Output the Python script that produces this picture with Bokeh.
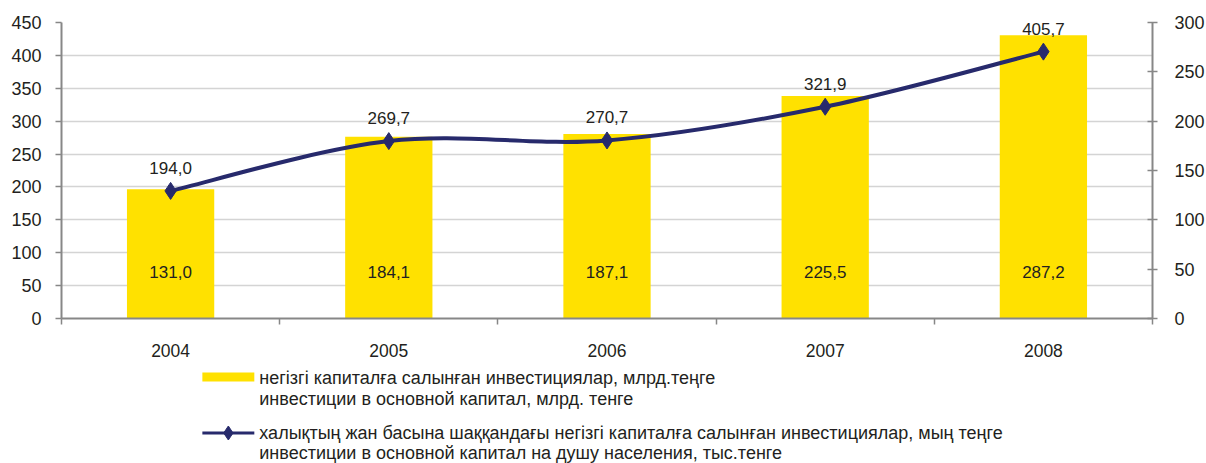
from bokeh.plotting import figure
from bokeh.models import Range1d, LinearAxis, FixedTicker
from bokeh.layouts import column
from bokeh.embed import file_html
from bokeh.resources import INLINE
from bokeh.core.properties import value

years = ["2004", "2005", "2006", "2007", "2008"]
bar_values = [131.0, 184.1, 187.1, 225.5, 287.2]      # right axis (0-300)
line_values = [194.0, 269.7, 270.7, 321.9, 405.7]     # left axis (0-450)
left_ticks = [0, 50, 100, 150, 200, 250, 300, 350, 400, 450]
right_ticks = [0, 50, 100, 150, 200, 250, 300]
legend_bar_lines = ["негізгі капиталға салынған инвестициялар, млрд.теңге",
                    "инвестиции в основной капитал, млрд. тенге"]
legend_line_lines = ["халықтың жан басына шаққандағы негізгі капиталға салынған инвестициялар, мың теңге",
                     "инвестиции в основной капитал на душу населения, тыс.тенге"]

def fmt(v):
    return f"{v:.1f}".replace(".", ",")

FONT = "Liberation Sans"
TXT = "#231F20"
YELLOW = "#FFE100"
NAVY = "#272A6C"
AXIS = "#878787"
GRID = "#D4D4D4"

FRAME_L, FRAME_W = 61, 1091
TOP_H = 358

xs = list(range(len(years)))

p = figure(frame_width=FRAME_W, frame_height=296, min_border_left=FRAME_L, min_border_top=22,
           min_border_right=54, min_border_bottom=40,
           x_range=Range1d(-0.5, len(years) - 0.5), y_range=Range1d(0, 450),
           output_backend="svg", toolbar_location=None)
p.extra_y_ranges = {"right": Range1d(0, 300)}
p.outline_line_color = None
p.background_fill_color = "white"

# bars
p.vbar(x=xs, top=bar_values, width=0.4, bottom=0, y_range_name="right",
       fill_color=YELLOW, line_color=None)

# smoothed line (Catmull-Rom -> cubic bezier) computed from the data
pts = list(zip(xs, line_values))
x0s, y0s, x1s, y1s, cx0, cy0, cx1, cy1 = [], [], [], [], [], [], [], []
n = len(pts)
for i in range(n - 1):
    pm = pts[i - 1] if i > 0 else pts[i]
    p0 = pts[i]
    p1 = pts[i + 1]
    p2 = pts[i + 2] if i + 2 < n else pts[i + 1]
    x0s.append(p0[0]); y0s.append(p0[1]); x1s.append(p1[0]); y1s.append(p1[1])
    cx0.append(p0[0] + (p1[0] - pm[0]) / 6); cy0.append(p0[1] + (p1[1] - pm[1]) / 6)
    cx1.append(p1[0] - (p2[0] - p0[0]) / 6); cy1.append(p1[1] - (p2[1] - p0[1]) / 6)
p.bezier(x0=x0s, y0=y0s, x1=x1s, y1=y1s, cx0=cx0, cy0=cy0, cx1=cx1, cy1=cy1,
         line_color=NAVY, line_width=4)
p.scatter(x=xs, y=line_values, marker="diamond", size=17, fill_color=NAVY, line_color=NAVY)

# labels
p.text(x=xs, y=line_values, text=[fmt(v) for v in line_values], y_offset=-23,
       text_align="center", text_baseline="middle", text_font=value(FONT),
       text_font_size="17px", text_color=TXT)
p.text(x=xs, y=[0] * len(xs), text=[fmt(v) for v in bar_values], y_offset=-47,
       y_range_name="right", text_align="center", text_baseline="middle",
       text_font=value(FONT), text_font_size="17px", text_color=TXT)

# axes
p.xaxis.ticker = FixedTicker(ticks=xs, minor_ticks=[i - 0.5 for i in range(len(years) + 1)])
p.xaxis.major_label_overrides = {i: y for i, y in zip(xs, years)}
p.xaxis.major_tick_out = 0
p.xaxis.major_tick_in = 0
p.xaxis.minor_tick_out = 6
p.xaxis.minor_tick_in = 0
p.xaxis.minor_tick_line_color = AXIS
p.xaxis.minor_tick_line_width = 1.5
p.xaxis.major_label_standoff = 19

p.yaxis.ticker = FixedTicker(ticks=left_ticks)
p.yaxis.major_tick_out = 6
p.yaxis.major_tick_in = 0
p.yaxis.minor_tick_line_color = None
p.yaxis.major_label_standoff = 14

right = LinearAxis(y_range_name="right", ticker=FixedTicker(ticks=right_ticks))
right.major_tick_out = 5
right.major_tick_in = 5
right.minor_tick_line_color = None
right.major_label_standoff = 17
p.add_layout(right, "right")

for ax in [p.xaxis[0], p.yaxis[0], right]:
    ax.axis_line_color = AXIS
    ax.axis_line_width = 2
    ax.major_tick_line_color = AXIS
    ax.major_tick_line_width = 1.5
    ax.major_label_text_font = FONT
    ax.major_label_text_font_size = "18px"
    ax.major_label_text_color = TXT
p.xaxis.major_label_text_font_size = "17.5px"

p.xgrid.grid_line_color = None
p.ygrid.ticker = FixedTicker(ticks=left_ticks)
p.ygrid.grid_line_color = GRID
p.ygrid.grid_line_width = 1.5

# legend figure (its frame is aligned with the chart frame by the column layout;
# ranges are set in screen-like pixel coordinates)
lg = figure(width=1206, height=463 - TOP_H, x_range=Range1d(FRAME_L, FRAME_L + FRAME_W),
            y_range=Range1d(463, TOP_H), output_backend="svg", toolbar_location=None,
            x_axis_location=None, y_axis_location=None,
            min_border_left=0, min_border_right=0, min_border_top=0, min_border_bottom=0)
lg.grid.visible = False
lg.outline_line_color = None

lg.quad(left=[202], right=[254], top=[371], bottom=[380], fill_color=YELLOW, line_color=None)
lg.segment(x0=[202], y0=[431.5], x1=[254], y1=[431.5], line_color=NAVY, line_width=3)
lg.scatter(x=[228], y=[431.5], marker="diamond", size=14, fill_color=NAVY, line_color=NAVY)
lg.text(x=[259, 259], y=[376, 397], text=legend_bar_lines, text_baseline="middle",
        text_font=value(FONT), text_font_size="18px", text_color=TXT)
lg.text(x=[259, 259], y=[431, 451.5], text=legend_line_lines, text_baseline="middle",
        text_font=value(FONT), text_font_size="18px", text_color=TXT)

layout = column(p, lg, spacing=0)
open("out.html", "w").write(file_html(layout, INLINE))
